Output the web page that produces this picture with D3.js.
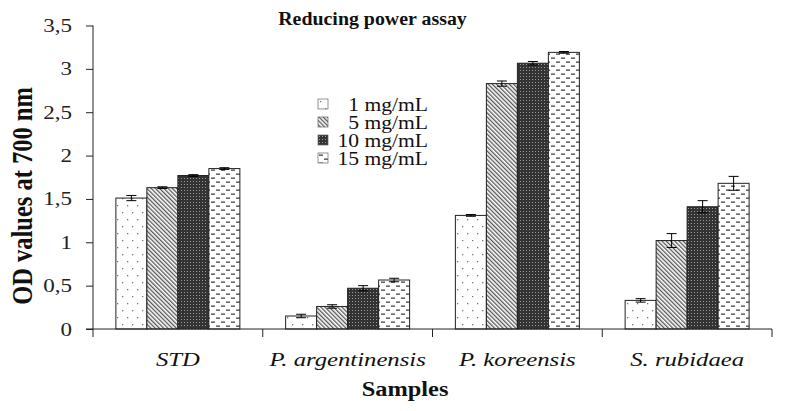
<!DOCTYPE html>
<html><head><meta charset="utf-8">
<script src="https://cdn.jsdelivr.net/npm/d3@7"></script>
<style>body{margin:0;background:#fff}svg{display:block}</style>
</head><body>
<script>
const categories = ["STD", "P. argentinensis", "P. koreensis", "S. rubidaea"];
const seriesNames = ["1 mg/mL", "5 mg/mL", "10 mg/mL", "15 mg/mL"];
const values1 = [1.51, 0.15, 1.31, 0.33];
const values5 = [1.63, 0.26, 2.83, 1.02];
const values10 = [1.77, 0.47, 3.065, 1.41];
const values15 = [1.85, 0.565, 3.19, 1.68];
const err1 = [0.03, 0.02, 0.01, 0.02];
const err5 = [0.01, 0.02, 0.03, 0.08];
const err10 = [0.01, 0.03, 0.02, 0.07];
const err15 = [0.01, 0.02, 0.01, 0.08];
const yTicks = [0, 0.5, 1, 1.5, 2, 2.5, 3, 3.5];

const W = 786, H = 411;
const FONT = "Liberation Serif, Times New Roman, serif";
const svg = d3.select("body").append("svg").attr("width", W).attr("height", H);
const m = {l: 93, r: 14, t: 25.5, b: 82};
const x0 = d3.scaleBand().domain(categories).range([m.l, W - m.r]).paddingInner(0).paddingOuter(0);
const x1 = d3.scaleBand().domain(seriesNames).range([0, x0.bandwidth()]).paddingOuter(0.738).paddingInner(0);
const y = d3.scaleLinear().domain([0, 3.5]).range([H - m.b, m.t]);

const defs = svg.append("defs");
// 1 mg: sparse dots
let p = defs.append("pattern").attr("id", "p0").attr("patternUnits", "userSpaceOnUse").attr("width", 10).attr("height", 14);
p.append("rect").attr("width", 10).attr("height", 14).attr("fill", "#fff");
p.append("rect").attr("x", 2).attr("y", 2).attr("width", 1.3).attr("height", 1.3).attr("fill", "#777");
p.append("rect").attr("x", 7).attr("y", 9).attr("width", 1.3).attr("height", 1.3).attr("fill", "#777");
// 5 mg: diagonal lines (\ direction)
p = defs.append("pattern").attr("id", "p1").attr("patternUnits", "userSpaceOnUse").attr("width", 3).attr("height", 3).attr("patternTransform", "rotate(-45)");
p.append("rect").attr("width", 3).attr("height", 3).attr("fill", "#fff");
p.append("rect").attr("width", 1.3).attr("height", 3).attr("fill", "#555");
// 10 mg: dark dense
p = defs.append("pattern").attr("id", "p2").attr("patternUnits", "userSpaceOnUse").attr("width", 3).attr("height", 3);
p.append("rect").attr("width", 3).attr("height", 3).attr("fill", "#333");
p.append("rect").attr("x", 1).attr("y", 1).attr("width", 1).attr("height", 1).attr("fill", "#999");
// 15 mg: dashes
p = defs.append("pattern").attr("id", "p3").attr("patternUnits", "userSpaceOnUse").attr("width", 10).attr("height", 8);
p.append("rect").attr("width", 10).attr("height", 8).attr("fill", "#fff");
p.append("rect").attr("x", 1).attr("y", 1.5).attr("width", 4).attr("height", 1.3).attr("fill", "#444");
p.append("rect").attr("x", 6).attr("y", 5.5).attr("width", 4).attr("height", 1.3).attr("fill", "#444");

const vals = [values1, values5, values10, values15];
const errs = [err1, err5, err10, err15];
const data = [];
categories.forEach((c, i) => seriesNames.forEach((s, j) => data.push({c, s, j, v: vals[j][i], e: errs[j][i]})));

const g = svg.append("g");
g.selectAll("rect.bar").data(data).join("rect").attr("class", "bar")
  .attr("x", d => x0(d.c) + x1(d.s)).attr("width", x1.bandwidth())
  .attr("y", d => y(d.v)).attr("height", d => y(0) - y(d.v))
  .attr("fill", d => `url(#p${d.j})`).attr("stroke", "#222").attr("stroke-width", 1);

const eb = g.selectAll("g.err").data(data).join("g").attr("class", "err")
  .attr("transform", d => `translate(${x0(d.c) + x1(d.s) + x1.bandwidth() / 2},0)`);
eb.append("line").attr("y1", d => y(d.v + d.e)).attr("y2", d => y(d.v - d.e)).attr("stroke", "#000");
eb.append("line").attr("x1", -5).attr("x2", 5).attr("y1", d => y(d.v + d.e)).attr("y2", d => y(d.v + d.e)).attr("stroke", "#000");
eb.append("line").attr("x1", -5).attr("x2", 5).attr("y1", d => y(d.v - d.e)).attr("y2", d => y(d.v - d.e)).attr("stroke", "#000");

// y axis
const yAxis = svg.append("g").attr("transform", `translate(${m.l},0)`)
  .call(d3.axisLeft(y).tickValues(yTicks).tickSize(7).tickFormat(""));
yAxis.select(".domain").attr("d", `M0,${y(3.5)}V${y(0) + 8}`);
yAxis.selectAll("line,path").attr("stroke", "#222");
svg.append("g").selectAll("text").data(yTicks).join("text")
  .attr("transform", d => `translate(${m.l - 21},${y(d) + 6.5}) scale(1.28,1)`)
  .attr("text-anchor", "end").attr("font-family", FONT).attr("font-size", 18).attr("fill", "#222")
  .text(d => String(d).replace(".", ","));

// x axis
const xAxis = svg.append("g").attr("transform", `translate(0,${y(0)})`);
xAxis.append("line").attr("x1", m.l - 7).attr("x2", W - m.r).attr("stroke", "#222");
const bounds = categories.map(c => x0(c)).concat([x0.range()[1]]);
xAxis.selectAll("line.sep").data(bounds.slice(1)).join("line").attr("class", "sep")
  .attr("x1", d => d).attr("x2", d => d).attr("y1", 0).attr("y2", 8).attr("stroke", "#222");
xAxis.selectAll("text").data(categories).join("text")
  .attr("transform", d => `translate(${x0(d) + x0.bandwidth() / 2},37) scale(1.3,1)`).attr("text-anchor", "middle")
  .attr("font-family", FONT).attr("font-style", "italic").attr("font-size", 19).attr("fill", "#111").text(d => d);

svg.append("text").attr("transform", "translate(372.5,25) scale(1.02,1)").attr("text-anchor", "middle").attr("font-family", FONT)
  .attr("font-weight", "bold").attr("font-size", 19.5).attr("fill", "#111").text("Reducing power assay");
svg.append("text").attr("transform", "translate(405,396) scale(1.22,1)").attr("text-anchor", "middle").attr("font-family", FONT)
  .attr("font-weight", "bold").attr("font-size", 20).attr("fill", "#111").text("Samples");
svg.append("text").attr("transform", `translate(32,196) rotate(-90) scale(1,1.2)`).attr("text-anchor", "middle")
  .attr("font-family", FONT).attr("font-weight", "bold").attr("font-size", 24.5).attr("fill", "#111").text("OD values at 700 nm");

// legend
const lg = svg.append("g").attr("transform", "translate(318,99)");
const li = lg.selectAll("g").data(seriesNames).join("g").attr("transform", (d, i) => `translate(0,${i * 18})`);
li.append("rect").attr("width", 10).attr("height", 10).attr("fill", (d, i) => `url(#p${i})`).attr("stroke", "#666").attr("stroke-width", 0.7);
li.append("text").attr("transform", "translate(110,11.5) scale(1.2,1)").attr("text-anchor", "end")
  .attr("font-family", FONT).attr("font-size", 18).attr("fill", "#111").text(d => d);
</script>
</body></html>
